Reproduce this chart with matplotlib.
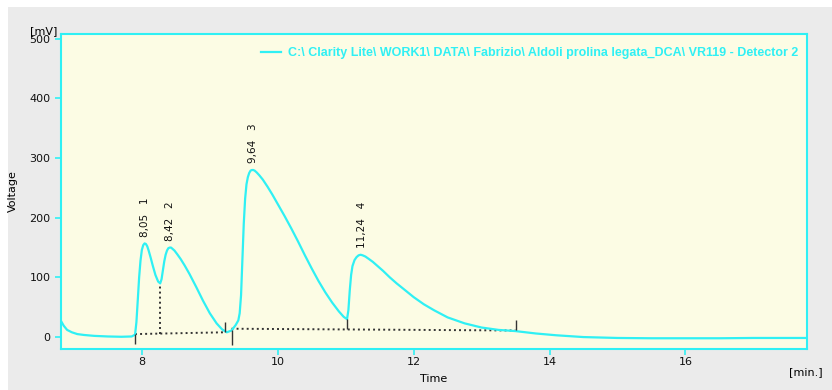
import numpy as np
import matplotlib
matplotlib.use("Agg")
import matplotlib.pyplot as plt
from matplotlib.patches import Rectangle

plt.rcParams["font.family"] = "DejaVu Sans"

# chromatogram trace (time in min, signal in mV)
time = [6.81, 6.85, 6.90, 6.97, 7.05, 7.15, 7.30, 7.50, 7.70, 7.85,
        7.90, 7.92, 7.94, 7.96, 7.98, 8.00, 8.02, 8.04, 8.06, 8.08,
        8.10, 8.13, 8.16, 8.20, 8.24, 8.27, 8.29, 8.31, 8.33, 8.35,
        8.37, 8.39, 8.41, 8.43, 8.45, 8.48, 8.52, 8.57, 8.63, 8.70,
        8.80, 8.90, 9.00, 9.10, 9.18, 9.25, 9.32, 9.38, 9.42, 9.44,
        9.46, 9.48, 9.50, 9.52, 9.54, 9.56, 9.58, 9.60, 9.62, 9.64,
        9.66, 9.69, 9.73, 9.78, 9.85, 9.92, 10.0, 10.1, 10.2, 10.3,
        10.4, 10.5, 10.6, 10.7, 10.8, 10.9, 10.97, 11.02, 11.04, 11.06,
        11.08, 11.10, 11.13, 11.16, 11.19, 11.22, 11.25, 11.29, 11.34, 11.40,
        11.47, 11.55, 11.65, 11.75, 11.87, 12.0, 12.15, 12.3, 12.5, 12.75,
        13.0, 13.25, 13.5, 13.8, 14.1, 14.5, 15.0, 15.5, 16.0, 16.5,
        17.0, 17.5, 17.79]
signal = [27, 19, 12, 8, 5, 3.5, 2, 1, 0.5, 1,
          4, 25, 62, 100, 128, 146, 154, 157, 156, 152,
          145, 133, 120, 104, 93, 90, 97, 112, 127, 138,
          145, 149, 150, 150, 148, 145, 139, 131, 120, 106,
          84, 61, 40, 23, 13, 8, 11, 20, 28, 40,
          70, 130, 190, 232, 256, 268, 275, 279, 280, 280,
          279, 276, 271, 264, 252, 239, 223, 203, 182, 160,
          137, 115, 94, 75, 58, 43, 34, 30, 45, 78,
          104, 119, 129, 134, 137, 138, 137, 135, 131, 126,
          119, 111, 100, 90, 79, 67, 55, 45, 33, 23,
          16, 12, 10, 6, 3, 0, -1.5, -2, -2, -2,
          -1.5, -1.5, -1.5]

# peaks
peak_times = [8.05, 8.42, 9.64, 11.24]
peak_ids = ["1", "2", "3", "4"]

# integration baselines (start t, start mV, end t, end mV)
base_t0 = [7.90, 9.32]
base_v0 = [5, 14]
base_t1 = [9.22, 13.5]
base_v1 = [8, 11]

# peak boundary markers: time, from mV, to mV
mark_t = [7.90, 9.22, 9.32, 11.02, 13.5]
mark_lo = [-12, 8, -13, 13, 12]
mark_hi = [5, 25, 12, 30, 28]

valley_t = 8.27

legend_label = "C:\\ Clarity Lite\\ WORK1\\ DATA\\ Fabrizio\\ Aldoli prolina legata_DCA\\ VR119 - Detector 2"

cyan = "#2ff0f4"
fig = plt.figure(figsize=(8.32, 3.90), dpi=100, facecolor="white")
fig.patches.append(Rectangle((8 / 832, 0), 1, 1 - 7 / 390, transform=fig.transFigure,
                             facecolor="#ebebeb", edgecolor="none", zorder=-10))
ax = fig.add_axes([61 / 832, 1 - 349 / 390, 746 / 832, 315 / 390])
ax.set_facecolor("#fcfce4")

ax.plot(time, signal, color=cyan, lw=1.6, label=legend_label, zorder=3)

# baselines
for a, b, c, d in zip(base_t0, base_v0, base_t1, base_v1):
    ax.plot([a, c], [b, d], color="#333333", lw=1.4, linestyle=(0, (1, 1.6)), zorder=2)
ax.vlines(mark_t, mark_lo, mark_hi, color="#333333", lw=1.0, zorder=4)
vv = np.interp(valley_t, time, signal)
vb = np.interp(valley_t, [base_t0[0], base_t1[0]], [base_v0[0], base_v1[0]])
ax.plot([valley_t, valley_t], [vb, vv], color="#333333", lw=1.4, linestyle=(0, (1, 1.6)), zorder=2)

# peak labels
for t, pid in zip(peak_times, peak_ids):
    h = np.interp(t, time, signal)
    lab = f"{t:.2f}".replace(".", ",") + "   " + pid
    ax.annotate(lab, (t, h), xytext=(0, 5), textcoords="offset points",
                rotation=90, ha="center", va="bottom", fontsize=7.5, color="#111111")

ax.set_xlim(6.81, 17.79)
ax.set_ylim(-20, 508)
ax.set_xticks([8, 10, 12, 14, 16])
ax.set_yticks([0, 100, 200, 300, 400, 500])
ax.tick_params(axis="both", color=cyan, length=4, width=1.2, labelsize=8, labelcolor="#111111")
ax.tick_params(axis="x", pad=2)
for s in ax.spines.values():
    s.set_color(cyan)
    s.set_linewidth(1.5)

ax.set_xlabel("Time", fontsize=8, labelpad=5)
ax.set_ylabel("Voltage", fontsize=8, labelpad=8)
fig.text(44 / 832, 1 - 31 / 390, "[mV]", fontsize=8, ha="center", va="center")
fig.text(806 / 832, 1 - 372 / 390, "[min.]", fontsize=8, ha="center", va="center")

leg = ax.legend(loc="upper right", bbox_to_anchor=(1.0, 0.985), frameon=False,
                handlelength=1.6, handletextpad=0.6, borderaxespad=0.3,
                prop={"family": "Liberation Sans", "weight": "bold", "size": 9})
for txt in leg.get_texts():
    txt.set_color(cyan)

fig.savefig("out.png", dpi=100, facecolor=fig.get_facecolor())
